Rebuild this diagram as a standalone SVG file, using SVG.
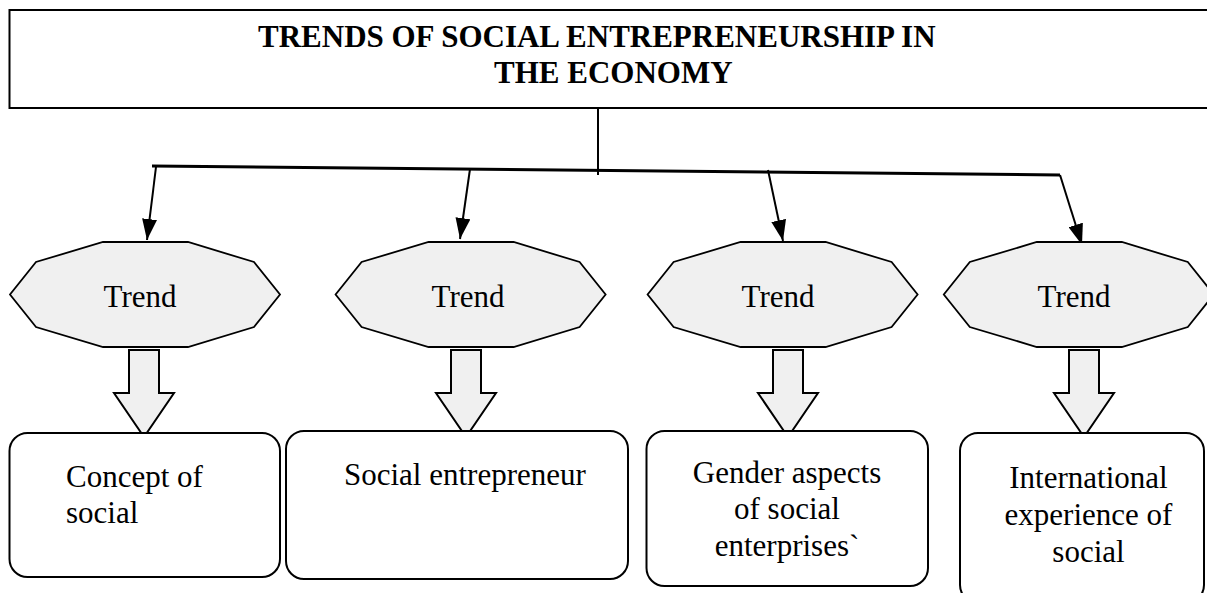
<svg xmlns="http://www.w3.org/2000/svg" xmlns:xlink="http://www.w3.org/1999/xlink" width="1207" height="593" viewBox="0 0 1207 593">
  <style>
    .box { fill: #ffffff; stroke: #000000; stroke-width: 2; }
    .oct { fill: #f0f0f0; stroke: #000000; stroke-width: 1.8; stroke-linejoin: miter; }
    .harrow { fill: #f0f0f0; stroke: #000000; stroke-width: 2; stroke-linejoin: miter; }
    .txt { font-family: "Liberation Serif", "Times New Roman", serif; font-size: 31px; fill: #000000; }
    .title { font-family: "Liberation Serif", "Times New Roman", serif; font-size: 31px; font-weight: bold; fill: #000000; }
    .line { stroke: #000000; stroke-width: 2; fill: none; }
    .bar { stroke: #000000; stroke-width: 3; fill: none; }
  </style>
  <defs>
    <marker id="ah" markerUnits="userSpaceOnUse" markerWidth="21" markerHeight="15" refX="21" refY="7.5" orient="auto">
      <path d="M0,0 L21,7.5 L0,15 Z" fill="#000000"/>
    </marker>
    <polygon id="octShape" class="oct" points="93,242 178,242 244,262 270,294.5 244,327 178,347 93,347 26,327 0,294.5 26,262"/>
    <polygon id="hollowArrow" class="harrow" points="-15,350 15,350 15,393 30,393 0,437 -30,393 -15,393"/>
  </defs>

  <rect width="1207" height="593" fill="#ffffff"/>

  <g id="title">
    <rect class="box" x="9.5" y="10" width="1210" height="98"/>
    <text class="title" x="258" y="47">TRENDS OF SOCIAL ENTREPRENEURSHIP IN</text>
    <text class="title" x="494" y="83">THE ECONOMY</text>
  </g>

  <g id="connectors">
    <line class="line" x1="598" y1="108" x2="598" y2="175"/>
    <line class="bar" x1="152" y1="166" x2="1060" y2="175"/>
    <line class="line" x1="156" y1="167" x2="147" y2="240" marker-end="url(#ah)"/>
    <line class="line" x1="470" y1="169" x2="460" y2="239" marker-end="url(#ah)"/>
    <line class="line" x1="768" y1="170" x2="783" y2="241" marker-end="url(#ah)"/>
    <line class="line" x1="1060" y1="175" x2="1082" y2="245" marker-end="url(#ah)"/>
    <use xlink:href="#hollowArrow" href="#hollowArrow" x="144" y="0"/>
    <use xlink:href="#hollowArrow" href="#hollowArrow" x="466" y="0"/>
    <use xlink:href="#hollowArrow" href="#hollowArrow" x="788" y="0"/>
    <use xlink:href="#hollowArrow" href="#hollowArrow" x="1084" y="0"/>
  </g>

  <g id="trend1">
    <use xlink:href="#octShape" href="#octShape" x="10" y="0"/>
    <text class="txt" x="140" y="307" text-anchor="middle">Trend</text>
  </g>
  <g id="trend2">
    <use xlink:href="#octShape" href="#octShape" x="335.6" y="0"/>
    <text class="txt" x="468" y="307" text-anchor="middle">Trend</text>
  </g>
  <g id="trend3">
    <use xlink:href="#octShape" href="#octShape" x="647.6" y="0"/>
    <text class="txt" x="778" y="307" text-anchor="middle">Trend</text>
  </g>
  <g id="trend4">
    <use xlink:href="#octShape" href="#octShape" x="943.8" y="0"/>
    <text class="txt" x="1074" y="307" text-anchor="middle">Trend</text>
  </g>

  <g id="concept">
    <rect class="box" x="9.5" y="433" width="270.5" height="144" rx="18" ry="18"/>
    <text class="txt" x="66" y="487">Concept of</text>
    <text class="txt" x="66" y="523">social</text>
  </g>
  <g id="entrepreneur">
    <rect class="box" x="286" y="431" width="342" height="148" rx="18" ry="18"/>
    <text class="txt" x="344" y="485">Social entrepreneur</text>
  </g>
  <g id="gender">
    <rect class="box" x="646.5" y="431" width="281.5" height="155" rx="18" ry="18"/>
    <text class="txt" x="787" y="483" text-anchor="middle">Gender aspects</text>
    <text class="txt" x="787" y="519" text-anchor="middle">of social</text>
    <text class="txt" x="787" y="556" text-anchor="middle">enterprises`</text>
  </g>
  <g id="international">
    <rect class="box" x="960" y="433" width="244" height="170" rx="18" ry="18"/>
    <text class="txt" x="1088.5" y="488" text-anchor="middle">International</text>
    <text class="txt" x="1088.5" y="525" text-anchor="middle">experience of</text>
    <text class="txt" x="1088.5" y="562" text-anchor="middle">social</text>
  </g>
</svg>
